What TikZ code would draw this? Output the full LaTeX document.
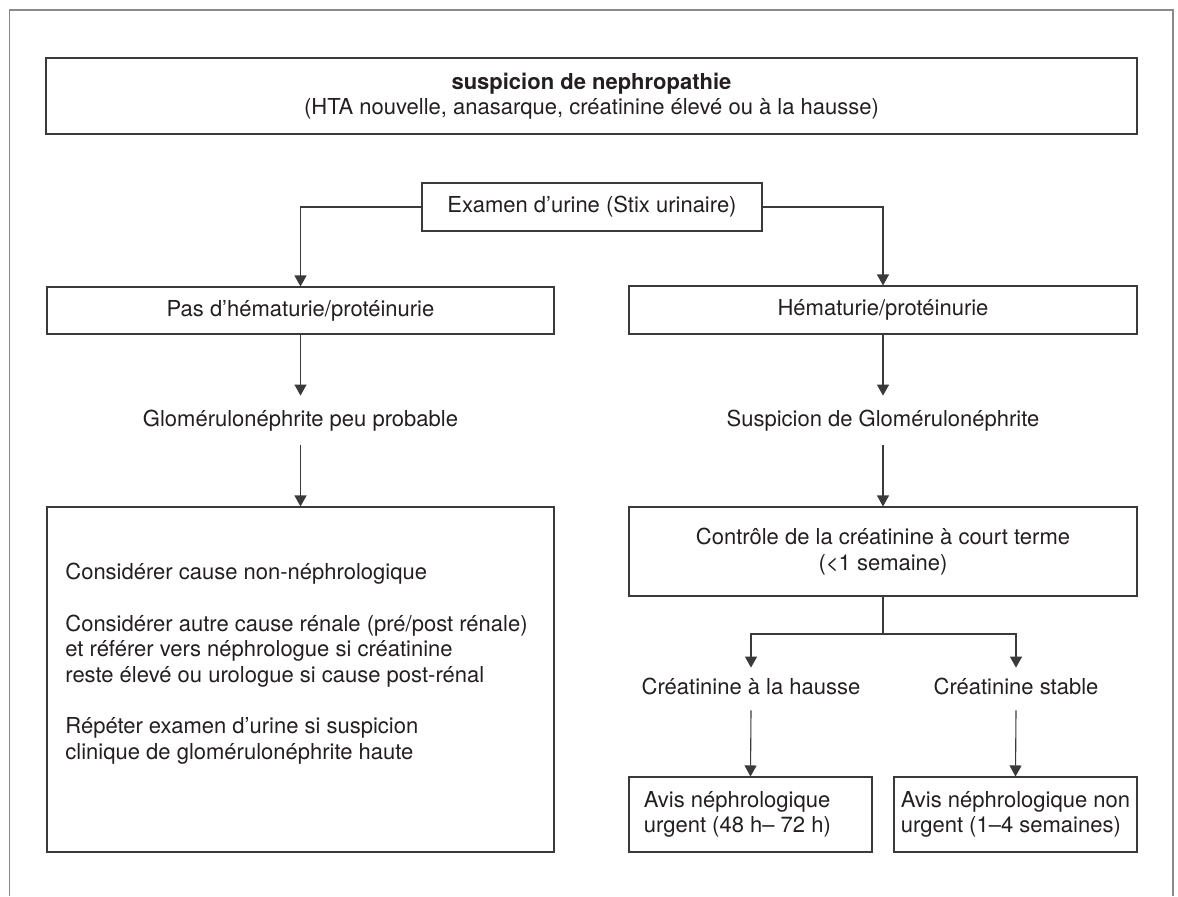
\documentclass[tikz,border=0pt]{standalone}
\usepackage{fontspec}
\setmainfont{TeX Gyre Heros}
\usetikzlibrary{arrows.meta}

\definecolor{linegray}{HTML}{3A3A3A}
\definecolor{framegray}{HTML}{8A8A8A}
\definecolor{textgray}{HTML}{231F20}

\tikzset{
	box/.style={draw=linegray, line width=0.55pt, inner sep=0pt, align=center},
	lbl/.style={inner xsep=0pt, inner ysep=6.5pt, text height=8.6pt, text depth=2.9pt},
	lblsm/.style={lbl, inner ysep=4.75pt},
	arr/.style={draw=linegray, line width=0.55pt, -{Triangle[width=6pt,length=5.5pt]}},
}

\begin{document}
\begin{tikzpicture}[x=0.5pt, y=-0.5pt, font=\fontsize{11}{12.8}\selectfont, text=textgray]

	\useasboundingbox (0,0) rectangle (1178,896);

	\coordinate (FBL) at (9.5,896);
	\coordinate (FTL) at (9.5,10);
	\coordinate (FTR) at (1173,10);
	\coordinate (FBR) at (1173,896);
	\draw[framegray, line width=0.6pt] (FBL) -- (FTL) -- (FTR) -- (FBR);

	\node[box, line width=1.3pt, minimum width=545.5pt, minimum height=38pt] (susp) at (591.5,96)
		{\textbf{suspicion de nephropathie}\\(HTA nouvelle, anasarque, créatinine élevé ou à la hausse)};

	\node[box, minimum width=170pt, minimum height=24pt] (exam) at (592,207) {Examen d’urine (Stix urinaire)};

	\node[box, minimum width=253.5pt, minimum height=23.5pt] (pas) at (300.5,310.5) {Pas d’hématurie/protéinurie};
	\node[box, minimum width=254pt, minimum height=24pt] (hem) at (883,310) {Hématurie/protéinurie};

	\node[lbl] (glomL) at (300.5,420.5) {Glomérulonéphrite peu probable};
	\node[lbl] (glomR) at (883,420.5) {Suspicion de Glomérulonéphrite};

	\node[box, minimum width=253.5pt, minimum height=172.5pt] (cons) at (300.5,679.5) {};
	\node[anchor=north west, align=left, inner sep=0pt] (consText) at (65,563)
		{Considérer cause non-néphrologique\\[12.8pt]
		Considérer autre cause rénale (pré/post rénale)\\
		et référer vers néphrologue si créatinine\\
		reste élevé ou urologue si cause post-rénal\\[12.8pt]
		Répéter examen d’urine si suspicion\\
		clinique de glomérulonéphrite haute};

	\node[box, minimum width=254pt, minimum height=44.5pt] (ctrl) at (883,551.5)
		{Contrôle de la créatinine à court terme\\(<1 semaine)};

	\coordinate (split) at (883,634);

	\node[lblsm] (hausse) at (751,689) {Créatinine à la hausse};
	\node[lblsm] (stable) at (1016,689) {Créatinine stable};

	\node[box, minimum width=121.5pt, minimum height=37.5pt] (urgent) at (750.5,814.5) {};
	\node[box, minimum width=121.5pt, minimum height=37.5pt] (nonurg) at (1015.5,814.5) {};
	\node[anchor=west, align=left, inner sep=0pt] (urgentText) at ([xshift=7.5pt]urgent.west)
		{Avis néphrologique\\urgent (48 h– 72 h)};
	\node[anchor=west, align=left, inner sep=0pt] (nonurgText) at ([xshift=3.5pt]nonurg.west)
		{Avis néphrologique non\\urgent (1–4 semaines)};

	\draw[arr] (exam.west) -| (pas.north);
	\draw[arr] (exam.east) -| (hem.north);
	\draw[arr] (pas.south) -- (glomL.north);
	\draw[arr] (hem.south) -- (glomR.north);
	\draw[arr] (glomL.south) -- (cons.north);
	\draw[arr] (glomR.south) -- (ctrl.north);
	\draw[linegray, line width=0.55pt] (ctrl.south) -- (split);
	\draw[arr] (split) -| (hausse.north);
	\draw[arr] (split) -| (stable.north);
	\draw[arr] (hausse.south) -- (urgent.north);
	\draw[arr] (stable.south) -- (nonurg.north);

\end{tikzpicture}
\end{document}
